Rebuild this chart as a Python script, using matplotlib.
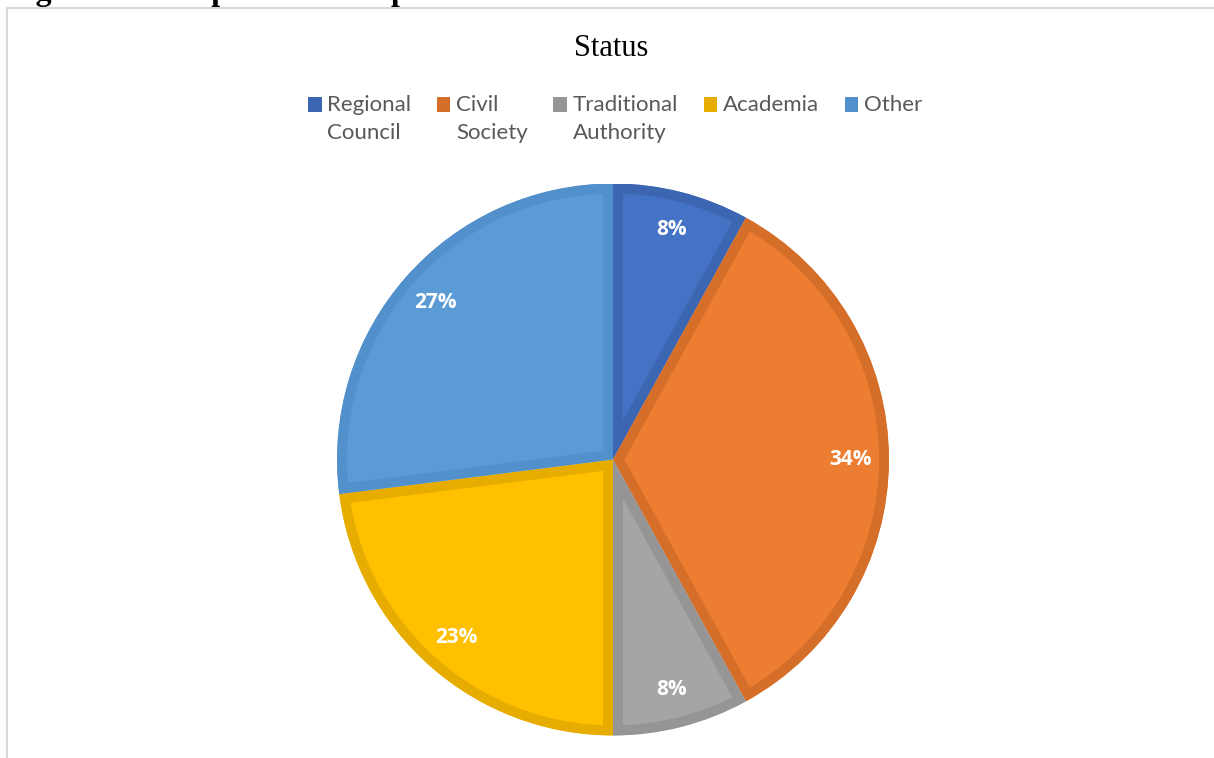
import matplotlib
matplotlib.use("Agg")
import matplotlib.pyplot as plt
from matplotlib.patches import Patch
from matplotlib.lines import Line2D
from matplotlib.legend_handler import HandlerPatch

# Respondent groups and their shares (%)
categories = ["Regional\nCouncil", "Civil\nSociety", "Traditional\nAuthority", "Academia\n", "Other\n"]
shares = [8, 34, 8, 23, 27]
fill_colors = ["#4472C4", "#ED7D31", "#A5A5A5", "#FFC000", "#5B9BD5"]
edge_colors = ["#3C66B2", "#D56E29", "#959595", "#E6AC00", "#5290CB"]

W, H = 1214, 758
fig = plt.figure(figsize=(W / 100, H / 100), dpi=100)
fig.patch.set_facecolor("white")

# Caption running off the top of the page
fig.text(7 / W, 1.0, "Figure 3: Occupation of Respondents",
         family="Liberation Serif", weight="bold", fontsize=23,
         ha="left", va="baseline", color="black")

# Chart frame (top and left edges)
frame_col = "#D9D9D9"
fig.add_artist(Line2D([7 / W, 1.0], [1 - 8 / H, 1 - 8 / H], color=frame_col, lw=1.5,
                      transform=fig.transFigure))
fig.add_artist(Line2D([7 / W, 7 / W], [0.0, 1 - 8 / H], color=frame_col, lw=1.5,
                      transform=fig.transFigure))

# Title
fig.text(611 / W, 1 - 49 / H, "Status", family="Liberation Serif", fontsize=22,
         ha="center", va="center", color="black")

# Pie
cx, cy, r = 613, 459.5, 276
ax = fig.add_axes([(cx - r) / W, (H - cy - r) / H, 2 * r / W, 2 * r / H])
wedges, texts, autotexts = ax.pie(
    shares, colors=fill_colors, startangle=90, counterclock=False,
    autopct=lambda p: f"{p:.0f}%", pctdistance=0.86, radius=1.0,
    textprops=dict(color="white", fontsize=15, weight="bold", family="Open Sans"),
)
band_pt = 10 * 72 / 100  # inner border band width
for w, ec in zip(wedges, edge_colors):
    w.set_edgecolor(ec)
    w.set_linewidth(2 * band_pt)
    w.set_joinstyle("miter")
    w.set_clip_on(True)
    w.set_clip_path(w)
ax.set_xlim(-1, 1)
ax.set_ylim(-1, 1)
ax.set_aspect("equal")
ax.axis("off")


class TopAlignedSquare(HandlerPatch):
    """Legend key placed level with the first line of a two-line label."""

    def __init__(self, shift, **kw):
        super().__init__(**kw)
        self.shift = shift

    def create_artists(self, legend, orig_handle, xdescent, ydescent, width,
                       height, fontsize, trans):
        arts = super().create_artists(legend, orig_handle, xdescent, ydescent,
                                      width, height, fontsize, trans)
        for a in arts:
            a.set_y(a.get_y() + self.shift)
        return arts


# Legend
leg_size = 16
line_gap_pt = 29 * 72 / 100
handles = [Patch(facecolor=ec, edgecolor="none") for ec in edge_colors]
leg = fig.legend(handles, categories, ncol=5, frameon=False,
                 loc="upper center", bbox_to_anchor=(615 / W, 1 - 75 / H),
                 prop=dict(family="Lato", size=leg_size),
                 handlelength=0.62, handleheight=0.62, handletextpad=0.25,
                 columnspacing=1.15, labelspacing=0.2,
                 handler_map={Patch: TopAlignedSquare(line_gap_pt / 2)})
for t in leg.get_texts():
    t.set_color("#595959")
    t.set_linespacing(1.5)

fig.savefig("out.png", dpi=100, facecolor="white")
